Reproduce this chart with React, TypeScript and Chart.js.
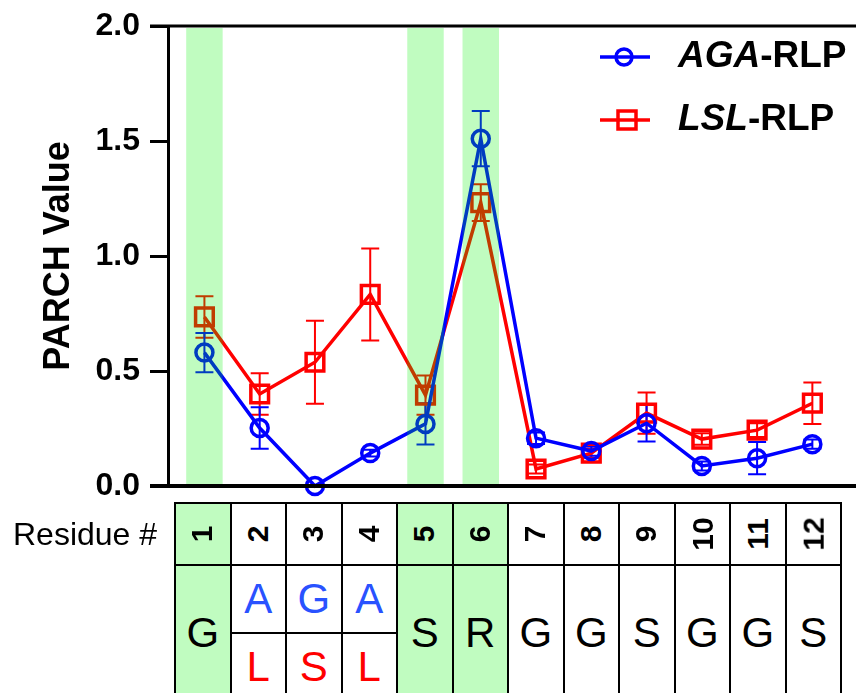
import React, { useEffect, useRef } from 'react';
import { Chart, registerables } from 'chart.js';

Chart.register(...registerables);

// ---------- data ----------
const residues = ['1', '2', '3', '4', '5', '6', '7', '8', '9', '10', '11', '12'];
const agaValues = [0.58, 0.252, 0.0, 0.143, 0.27, 1.51, 0.208, 0.152, 0.273, 0.087, 0.121, 0.182];
const agaErrors = [0.085, 0.09, 0, 0.015, 0.09, 0.12, 0.025, 0.02, 0.08, 0.02, 0.07, 0.02];
const lslValues = [0.735, 0.4, 0.538, 0.833, 0.395, 1.232, 0.074, 0.143, 0.317, 0.204, 0.243, 0.36];
const lslErrors = [0.09, 0.09, 0.18, 0.2, 0.085, 0.08, 0.02, 0.02, 0.09, 0.025, 0.03, 0.09];
const yTicks = [0, 0.5, 1.0, 1.5, 2.0];
const highlighted = ['1', '5', '6'];
const agaSeq = ['G', 'A', 'G', 'A', 'S', 'R', 'G', 'G', 'S', 'G', 'G', 'S'];
const lslSeq = ['G', 'L', 'S', 'L', 'S', 'R', 'G', 'G', 'S', 'G', 'G', 'S'];
const seriesItalic = ['AGA', 'LSL'];
const seriesSuffix = '-RLP';
const yTitle = 'PARCH Value';
const rowLabel = 'Residue #';

const FONT = '"Liberation Sans", Arial, Helvetica, sans-serif';
const BLUE = '#0000ff';
const RED = '#ff0000';
const GREEN = 'rgb(192, 252, 192)';
const GREEN_OVERLAY = 'rgba(0, 243, 0, 0.247)';

const errorBarPlugin = {
  id: 'errorBars',
  beforeDatasetsDraw(chart: any) {
    const ctx = chart.ctx;
    const xs = chart.scales.x;
    const ys = chart.scales.y;
    const sets = [
      { v: lslValues, e: lslErrors, c: RED },
      { v: agaValues, e: agaErrors, c: BLUE },
    ];
    ctx.save();
    ctx.lineWidth = 2;
    for (const s of sets) {
      ctx.strokeStyle = s.c;
      residues.forEach((r, i) => {
        const err = s.e[i];
        if (!err) return;
        const x = xs.getPixelForValue(Number(r));
        const y1 = ys.getPixelForValue(s.v[i] + err);
        const y2 = ys.getPixelForValue(s.v[i] - err);
        ctx.beginPath();
        ctx.moveTo(x, y1);
        ctx.lineTo(x, y2);
        ctx.moveTo(x - 9, y1);
        ctx.lineTo(x + 9, y1);
        ctx.moveTo(x - 9, y2);
        ctx.lineTo(x + 9, y2);
        ctx.stroke();
      });
    }
    ctx.restore();
  },
};

const bandsPlugin = {
  id: 'bands',
  afterDatasetsDraw(chart: any) {
    const ctx = chart.ctx;
    const xs = chart.scales.x;
    const { top, bottom } = chart.chartArea;
    ctx.save();
    ctx.fillStyle = GREEN_OVERLAY;
    for (const h of highlighted) {
      const x1 = xs.getPixelForValue(Number(h) - 0.33);
      const x2 = xs.getPixelForValue(Number(h) + 0.33);
      ctx.fillRect(x1, top + 2, x2 - x1, bottom - top - 2);
    }
    ctx.restore();
  },
};

const framePlugin = {
  id: 'frame',
  afterDraw(chart: any) {
    const ctx = chart.ctx;
    const { left, top, bottom } = chart.chartArea;
    const right = chart.width;
    ctx.save();
    ctx.strokeStyle = '#000';
    ctx.lineWidth = 3;
    ctx.beginPath();
    ctx.moveTo(left - 18, top);
    ctx.lineTo(right, top);
    ctx.stroke();
    ctx.lineWidth = 4;
    ctx.beginPath();
    ctx.moveTo(left - 18, bottom);
    ctx.lineTo(right, bottom);
    ctx.stroke();

    // legend
    const colors = [BLUE, RED];
    seriesItalic.forEach((name, k) => {
      const y = top + 31 + k * 63;
      ctx.strokeStyle = colors[k];
      ctx.lineWidth = 3.5;
      ctx.beginPath();
      ctx.moveTo(600, y);
      ctx.lineTo(650, y);
      ctx.stroke();
      if (k === 0) {
        ctx.beginPath();
        ctx.arc(624, y, 8, 0, Math.PI * 2);
        ctx.stroke();
      } else {
        ctx.strokeRect(627 - 9, y - 9, 18, 18);
      }
      ctx.fillStyle = '#000';
      ctx.textBaseline = 'middle';
      ctx.textAlign = 'left';
      ctx.font = `italic bold 37px ${FONT}`;
      ctx.fillText(name, 678, y);
      const w = ctx.measureText(name).width;
      ctx.font = `bold 37px ${FONT}`;
      ctx.fillText(seriesSuffix, 678 + w, y);
    });
    ctx.restore();
  },
};

function ChartCanvas() {
  const ref = useRef<HTMLCanvasElement | null>(null);
  useEffect(() => {
    if (!ref.current) return;
    const chart = new Chart(ref.current, {
      type: 'line',
      data: {
        datasets: [
          {
            label: seriesItalic[0] + seriesSuffix,
            data: residues.map((r, i) => ({ x: Number(r), y: agaValues[i] })),
            borderColor: BLUE,
            backgroundColor: 'transparent',
            borderWidth: 3.5,
            pointStyle: 'circle',
            pointRadius: 8.5,
            pointBorderWidth: 3.5,
            pointBorderColor: BLUE,
            pointBackgroundColor: 'transparent',
            tension: 0,
            clip: false as any,
          },
          {
            label: seriesItalic[1] + seriesSuffix,
            data: residues.map((r, i) => ({ x: Number(r), y: lslValues[i] })),
            borderColor: RED,
            backgroundColor: 'transparent',
            borderWidth: 3.5,
            pointStyle: 'rect',
            pointRadius: 12.5,
            pointBorderWidth: 3.5,
            pointBorderColor: RED,
            pointBackgroundColor: 'transparent',
            tension: 0,
            clip: false as any,
          },
        ],
      },
      options: {
        responsive: false,
        animation: false,
        events: [],
        layout: { padding: { top: 25, bottom: 207, left: 0, right: 0 } },
        plugins: { legend: { display: false }, tooltip: { enabled: false } },
        scales: {
          x: {
            type: 'linear',
            min: 0.341,
            max: 12.5,
            display: false,
          },
          y: {
            type: 'linear',
            min: 0,
            max: 2,
            afterFit(scale: any) {
              scale.width = 168;
            },
            afterBuildTicks(scale: any) {
              scale.ticks = yTicks.map((v) => ({ value: v }));
            },
            ticks: {
              color: '#000',
              padding: 10,
              font: { family: FONT, size: 32, weight: 'bold', lineHeight: 1 },
              callback: (v: any) => Number(v).toFixed(1),
            },
            grid: {
              drawOnChartArea: false,
              drawTicks: true,
              tickLength: 18,
              color: '#000',
              lineWidth: 3,
            },
            border: { display: true, color: '#000', width: 3 },
            title: {
              display: true,
              text: yTitle,
              color: '#000',
              font: { family: FONT, size: 36, weight: 'bold', lineHeight: 1.2 },
              padding: { top: 37, bottom: 0 },
            },
          },
        },
      },
      plugins: [errorBarPlugin, bandsPlugin, framePlugin],
    } as any);
    return () => chart.destroy();
  }, []);
  return (
    <canvas
      ref={ref}
      width={856}
      height={693}
      style={{ position: 'absolute', left: 0, top: 0, width: 856, height: 693 }}
    />
  );
}

function ResidueTable() {
  const left = 175;
  const colW = 55.5;
  const top = 503;
  const headH = 62;
  const rowH = 68;
  const cells: React.ReactNode[] = [];
  const cellBase = (x: number, y: number, w: number, h: number, green: boolean): React.CSSProperties => ({
    position: 'absolute',
    left: x - 1,
    top: y - 1,
    width: w + 2,
    height: h + 2,
    boxSizing: 'border-box',
    border: '2px solid #000',
    background: green ? GREEN : '#fff',
    display: 'flex',
    alignItems: 'center',
    justifyContent: 'center',
    fontFamily: FONT,
  });
  residues.forEach((r, i) => {
    const x = left + i * colW;
    const green = highlighted.includes(r);
    cells.push(
      <div key={'h' + r} style={cellBase(x, top, colW, headH, green)}>
        <span
          style={{
            display: 'inline-block',
            transform: 'rotate(-90deg)',
            fontWeight: 'bold',
            fontSize: 30,
            whiteSpace: 'nowrap',
            lineHeight: 1,
          }}
        >
          {r}
        </span>
      </div>
    );
    if (agaSeq[i] === lslSeq[i]) {
      cells.push(
        <div key={'b' + r} style={{ ...cellBase(x, top + headH, colW, rowH * 2, green), fontSize: 42, color: '#000' }}>
          {agaSeq[i]}
        </div>
      );
    } else {
      cells.push(
        <div key={'a' + r} style={{ ...cellBase(x, top + headH, colW, rowH, green), fontSize: 42, color: '#2952ff' }}>
          {agaSeq[i]}
        </div>
      );
      cells.push(
        <div key={'l' + r} style={{ ...cellBase(x, top + headH + rowH, colW, rowH, green), fontSize: 42, color: RED }}>
          {lslSeq[i]}
        </div>
      );
    }
  });
  return (
    <>
      <div
        style={{
          position: 'absolute',
          left: 13,
          top: top + headH / 2 - 20,
          height: 40,
          lineHeight: '40px',
          fontFamily: FONT,
          fontSize: 32,
          color: '#000',
          whiteSpace: 'nowrap',
        }}
      >
        {rowLabel}
      </div>
      {cells}
    </>
  );
}

export default function App() {
  return (
    <div
      style={{
        position: 'fixed',
        left: 0,
        top: 0,
        width: 856,
        height: 693,
        overflow: 'hidden',
        background: '#fff',
      }}
    >
      <ChartCanvas />
      <ResidueTable />
    </div>
  );
}
